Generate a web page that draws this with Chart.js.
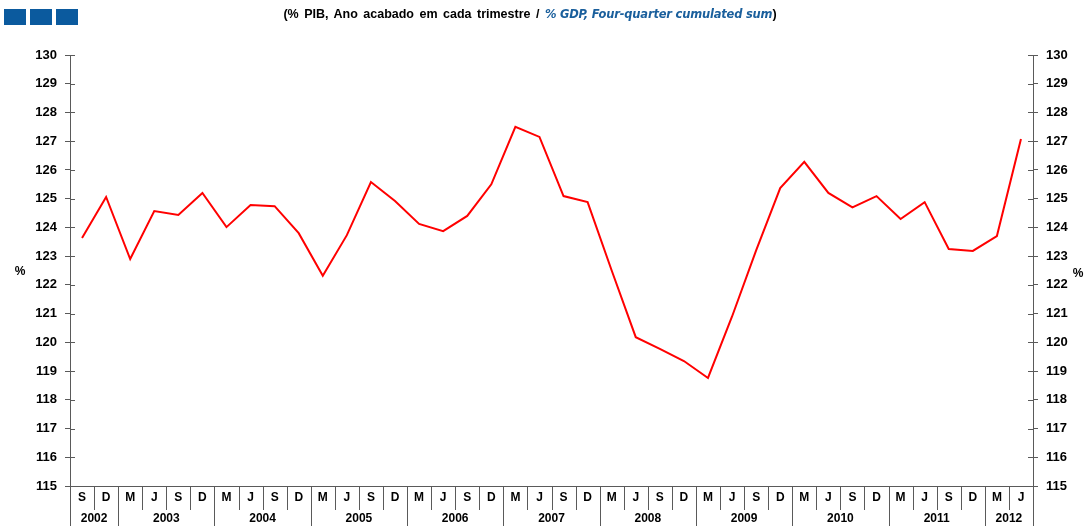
<!DOCTYPE html>
<html>
  <head>
    <title>PIB trimestral</title>
    <script src="https://cdn.jsdelivr.net/npm/chart.js"></script>
    <style>
      body {
        margin: 0;
        background: #fff;
        font-family: "Liberation Sans", Arial, sans-serif;
      }
      #wrap {
        position: relative;
        width: 1085px;
        height: 526px;
      }
      .square {
        position: absolute;
        top: 9px;
        width: 22px;
        height: 16px;
        background: #0b5a9e;
      }
      #title {
        position: absolute;
        top: 7px;
        left: 0;
        width: 1060px;
        text-align: center;
        font-size: 12.5px;
        font-weight: bold;
        word-spacing: 2px;
        color: #000;
        white-space: nowrap;
      }
      #title em {
        font-family: "DejaVu Sans", sans-serif;
        font-size: 11.5px;
        word-spacing: 0;
        letter-spacing: -0.2px;
        color: #1a5f9c;
      }
    </style>
  </head>
  <body>
    <div id="wrap">
      <canvas id="myChart" width="1085" height="526"></canvas>
      <div class="square" style="left: 4px"></div>
      <div class="square" style="left: 30px"></div>
      <div class="square" style="left: 56px"></div>
      <div id="title">(% PIB, Ano acabado em cada trimestre / <em>% GDP, Four-quarter cumulated sum</em>)</div>
    </div>

    <script>
      // dados (trimestres de Set 2002 a Jun 2012)
      const months = ["S", "D",
        "M", "J", "S", "D", "M", "J", "S", "D", "M", "J", "S", "D",
        "M", "J", "S", "D", "M", "J", "S", "D", "M", "J", "S", "D",
        "M", "J", "S", "D", "M", "J", "S", "D", "M", "J", "S", "D",
        "M", "J"];
      const years = ["2002", "2002",
        "2003", "2003", "2003", "2003", "2004", "2004", "2004", "2004",
        "2005", "2005", "2005", "2005", "2006", "2006", "2006", "2006",
        "2007", "2007", "2007", "2007", "2008", "2008", "2008", "2008",
        "2009", "2009", "2009", "2009", "2010", "2010", "2010", "2010",
        "2011", "2011", "2011", "2011", "2012", "2012"];
      const values = [123.63, 125.06,
        122.9, 124.57, 124.43, 125.2,
        124.01, 124.78, 124.74, 123.8,
        122.32, 123.73, 125.58, 124.92,
        124.12, 123.87, 124.4, 125.5,
        127.5, 127.15, 125.09, 124.88,
        122.5, 120.18, 119.77, 119.35,
        118.76, 120.9, 123.2, 125.37,
        126.28, 125.2, 124.7, 125.09,
        124.29, 124.88, 123.25, 123.18,
        123.7, 127.08];
      const yMin = 115;
      const yMax = 130;

      const axisColor = "#5a5a5a";
      const labelFont = { family: "'Liberation Sans', Arial", size: 13, weight: "bold" };

      // tabela de meses/anos por baixo do eixo e traços de escala
      const tablePlugin = {
        id: "tablePlugin",
        afterDraw(chart) {
          const ctx = chart.ctx;
          const x = chart.scales.x;
          const area = chart.chartArea;
          const bottom = area.bottom;
          const step = (area.right - area.left) / months.length;

          ctx.save();
          ctx.strokeStyle = axisColor;
          ctx.lineWidth = 1;
          ctx.fillStyle = "#000";
          ctx.font = "bold 12px 'Liberation Sans', Arial";
          ctx.textAlign = "center";
          ctx.textBaseline = "middle";

          // linhas verticais de limite
          ctx.beginPath();
          ctx.moveTo(Math.round(area.left) + 0.5, bottom);
          ctx.lineTo(Math.round(area.left) + 0.5, chart.height);
          ctx.moveTo(Math.round(area.right) + 0.5, bottom);
          ctx.lineTo(Math.round(area.right) + 0.5, chart.height);

          let yearStart = 0;
          months.forEach((m, i) => {
            const cx = x.getPixelForValue(i);
            ctx.fillText(m, cx, bottom + 12);
            if (i < months.length - 1) {
              const edge = Math.round(cx + step / 2) + 0.5;
              const newYear = years[i + 1] !== years[i];
              ctx.moveTo(edge, bottom);
              ctx.lineTo(edge, newYear ? chart.height : bottom + 24);
            }
            if (i === months.length - 1 || years[i + 1] !== years[i]) {
              const a = x.getPixelForValue(yearStart);
              ctx.fillText(years[i], (a + cx) / 2, bottom + 33);
              yearStart = i + 1;
            }
          });
          ctx.stroke();

          // traços para dentro nos eixos verticais
          ["y", "y2"].forEach((id) => {
            const s = chart.scales[id];
            const ax = id === "y" ? area.left : area.right;
            const dir = id === "y" ? 1 : -1;
            ctx.beginPath();
            s.ticks.forEach((t) => {
              const py = Math.round(s.getPixelForValue(t.value)) + 0.5;
              ctx.moveTo(ax, py);
              ctx.lineTo(ax + dir * 5, py);
            });
            ctx.stroke();
          });

          // unidade
          ctx.font = "bold 12px 'Liberation Sans', Arial";
          ctx.fillText("%", 20, 272);
          ctx.fillText("%", 1078, 274);
          ctx.restore();
        },
      };

      const yAxis = (pos) => ({
        type: "linear",
        position: pos,
        min: yMin,
        max: yMax,
        ticks: {
          stepSize: 1,
          color: "#000",
          font: labelFont,
          padding: 8,
        },
        grid: {
          drawOnChartArea: false,
          drawTicks: true,
          tickLength: 5,
          color: axisColor,
        },
        border: { display: true, color: axisColor },
        afterFit(scale) {
          scale.width = pos === "left" ? 70 : 52;
        },
      });

      const ctx = document.getElementById("myChart").getContext("2d");
      const chart = new Chart(ctx, {
        type: "line",
        data: {
          labels: months,
          datasets: [
            {
              label: "% PIB",
              data: values,
              borderColor: "#ff0000",
              borderWidth: 2,
              pointRadius: 0,
              tension: 0,
              fill: false,
              yAxisID: "y",
            },
          ],
        },
        options: {
          responsive: false,
          animation: false,
          layout: { padding: { top: 55, left: 0, right: 0, bottom: 0 } },
          plugins: {
            legend: { display: false },
            tooltip: { enabled: false },
          },
          scales: {
            x: {
              type: "category",
              offset: true,
              ticks: { display: false },
              grid: { display: false },
              border: { display: true, color: axisColor },
              afterFit(scale) {
                scale.height = 40;
              },
            },
            y: yAxis("left"),
            y2: yAxis("right"),
          },
        },
        plugins: [tablePlugin],
      });
    </script>
  </body>
</html>
